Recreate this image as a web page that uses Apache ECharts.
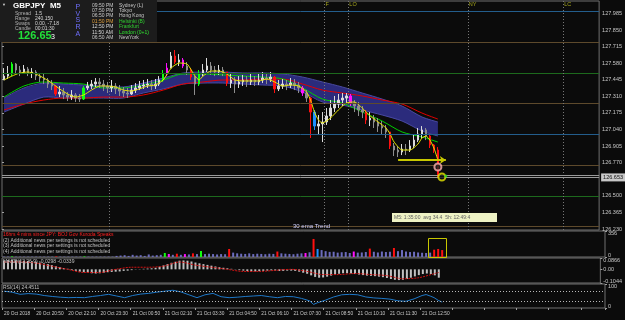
<!DOCTYPE html>
<html>
<head>
<meta charset="utf-8">
<script src="https://cdn.jsdelivr.net/npm/echarts@6/dist/echarts.min.js"></script>
<style>
  html, body { margin: 0; padding: 0; background: #0b0b0b; }
  #chart { width: 625px; height: 320px; }
</style>
</head>
<body>
<div id="chart"></div>
<script>
// GBPJPY M5, each slot = 10 min
const timeLabels = ['20 Oct 2018', '20 Oct 20:50', '20 Oct 22:10', '20 Oct 23:30', '21 Oct 00:50',
  '21 Oct 02:10', '21 Oct 03:30', '21 Oct 04:50', '21 Oct 06:10', '21 Oct 07:30',
  '21 Oct 08:50', '21 Oct 10:10', '21 Oct 11:30', '21 Oct 12:50']

const firstOpen = 127.443
const closes = [
  127.475, 127.492, 127.573, 127.524, 127.508, 127.532, 127.500, 127.508, 127.475, 127.459,
  127.443, 127.410, 127.394, 127.329, 127.345, 127.321, 127.304, 127.321, 127.296, 127.288,
  127.378, 127.394, 127.410, 127.427, 127.410, 127.394, 127.378, 127.394, 127.370, 127.353,
  127.337, 127.329, 127.361, 127.378, 127.394, 127.402, 127.410, 127.394, 127.410, 127.443,
  127.492, 127.540, 127.638, 127.589, 127.606, 127.557, 127.524, 127.467, 127.410, 127.492,
  127.524, 127.557, 127.524, 127.508, 127.524, 127.508, 127.418, 127.443, 127.410, 127.427,
  127.443, 127.427, 127.443, 127.427, 127.443, 127.459, 127.451, 127.467, 127.370, 127.394,
  127.410, 127.402, 127.418, 127.402, 127.378, 127.337, 127.296, 127.182, 127.068, 127.085,
  127.101, 127.150, 127.215, 127.247, 127.280, 127.296, 127.313, 127.256, 127.231, 127.199,
  127.182, 127.117, 127.133, 127.101, 127.068, 127.052, 127.020, 126.906, 126.873, 126.857,
  126.881, 126.873, 126.906, 126.954, 127.003, 127.036, 126.987, 126.914, 126.873, 126.653
]
const highs = [
  127.540, 127.557, 127.589, 127.581, 127.557, 127.565, 127.549, 127.540, 127.524, 127.500,
  127.492, 127.459, 127.443, 127.402, 127.394, 127.378, 127.345, 127.361, 127.337, 127.329,
  127.394, 127.427, 127.443, 127.459, 127.459, 127.443, 127.427, 127.443, 127.418, 127.402,
  127.386, 127.378, 127.402, 127.418, 127.435, 127.443, 127.451, 127.443, 127.451, 127.475,
  127.524, 127.581, 127.671, 127.687, 127.654, 127.622, 127.589, 127.540, 127.475, 127.524,
  127.573, 127.622, 127.589, 127.557, 127.565, 127.549, 127.508, 127.492, 127.467, 127.475,
  127.484, 127.475, 127.492, 127.475, 127.492, 127.508, 127.500, 127.508, 127.475, 127.443,
  127.451, 127.443, 127.459, 127.451, 127.427, 127.394, 127.361, 127.304, 127.199, 127.158,
  127.182, 127.215, 127.280, 127.313, 127.329, 127.337, 127.337, 127.329, 127.280, 127.264,
  127.231, 127.199, 127.182, 127.158, 127.133, 127.109, 127.077, 127.020, 126.930, 126.906,
  126.922, 126.922, 126.954, 127.003, 127.052, 127.068, 127.052, 127.003, 126.922, 126.897
]
const lows = [
  127.443, 127.451, 127.475, 127.492, 127.475, 127.492, 127.475, 127.459, 127.443, 127.427,
  127.410, 127.378, 127.361, 127.313, 127.304, 127.288, 127.272, 127.280, 127.264, 127.264,
  127.280, 127.361, 127.370, 127.386, 127.378, 127.353, 127.337, 127.345, 127.329, 127.313,
  127.304, 127.296, 127.321, 127.337, 127.361, 127.370, 127.378, 127.361, 127.370, 127.394,
  127.427, 127.475, 127.540, 127.573, 127.557, 127.540, 127.484, 127.443, 127.321, 127.394,
  127.475, 127.508, 127.484, 127.475, 127.484, 127.475, 127.394, 127.378, 127.337, 127.378,
  127.394, 127.386, 127.402, 127.394, 127.402, 127.418, 127.410, 127.427, 127.337, 127.353,
  127.370, 127.361, 127.378, 127.361, 127.337, 127.313, 127.264, 126.971, 127.036, 126.995,
  126.938, 127.077, 127.117, 127.182, 127.215, 127.231, 127.247, 127.231, 127.182, 127.150,
  127.133, 127.085, 127.068, 127.052, 127.020, 127.003, 126.971, 126.881, 126.824, 126.816,
  126.832, 126.832, 126.857, 126.889, 126.938, 126.971, 126.954, 126.889, 126.849, 126.653
]

// PVSRA candle classes (slot indexes)
const climaxBear = [13, 43, 47, 56, 68, 77, 91, 97, 107, 108, 109]
const climaxBull = [2, 20, 40, 49]
const aboveAvgBear = [41, 45, 75, 87]
const aboveAvgBull = [78]

const volumes = [
  5, 5, 8, 5, 5, 5, 5, 5, 5, 5, 5, 5, 5, 8, 5, 5, 5, 5, 5, 5,
  8, 5, 5, 5, 5, 5, 5, 5, 15, 20, 25, 15, 30, 20, 25, 15, 35, 20, 25, 30,
  55, 41, 30, 45, 30, 40, 35, 50, 40, 82, 40, 45, 40, 35, 40, 38, 110, 60, 50, 45,
  42, 50, 40, 45, 42, 38, 45, 42, 75, 50, 45, 42, 38, 45, 50, 55, 65, 247, 110, 95,
  80, 70, 72, 60, 65, 68, 55, 75, 60, 62, 68, 115, 72, 62, 75, 68, 72, 123, 80, 95,
  75, 68, 72, 62, 58, 55, 60, 100, 110, 95
]

// moving averages, sampled at these slots
const maX = [0, 5, 10, 15, 20, 25, 30, 35, 40, 45, 50, 55, 60, 65, 70, 75, 80, 85, 90, 95, 100, 105, 109]
const ribbonTop = [127.296, 127.378, 127.418, 127.410, 127.402, 127.394, 127.386, 127.418, 127.459, 127.500, 127.508, 127.508,
  127.500, 127.500, 127.492, 127.467, 127.427, 127.386, 127.337, 127.288, 127.231, 127.142, 127.101]
const ribbonBot = [127.182, 127.247, 127.304, 127.296, 127.296, 127.296, 127.296, 127.337, 127.370, 127.410, 127.418, 127.418,
  127.410, 127.402, 127.394, 127.345, 127.264, 127.239, 127.199, 127.158, 127.109, 127.028, 126.987]
const greenMA = [127.304, 127.394, 127.427, 127.418, 127.410, 127.378, 127.378, 127.402, 127.443, 127.492, 127.492, 127.484,
  127.475, 127.467, 127.451, 127.378, 127.288, 127.256, 127.182, 127.109, 127.020, 126.979, 126.938]
const redMA = [127.199, 127.247, 127.280, 127.296, 127.296, 127.304, 127.304, 127.321, 127.361, 127.410, 127.427, 127.443,
  127.443, 127.451, 127.451, 127.410, 127.361, 127.337, 127.313, 127.280, 127.247, 127.174, 127.125]

const yellowX = [0, 2, 4, 6, 8, 10, 12, 14, 16, 18, 20, 22, 24, 26, 28, 30, 32, 34, 36, 38, 40, 42, 44, 46, 48, 49, 50, 52, 54, 56,
  58, 60, 62, 64, 66, 68, 70, 72, 74, 76, 77, 78, 79, 80, 82, 84, 86, 88, 90, 92, 94, 96, 97, 98, 100, 102, 104, 105, 106, 107, 108, 109]
const yellowMA = [127.443, 127.475, 127.500, 127.508, 127.492, 127.459, 127.418, 127.370, 127.329, 127.304, 127.321, 127.361,
  127.394, 127.394, 127.386, 127.361, 127.353, 127.370, 127.394, 127.402, 127.443, 127.540, 127.581, 127.573, 127.475, 127.443,
  127.475, 127.516, 127.516, 127.492, 127.443, 127.435, 127.435, 127.435, 127.451, 127.427, 127.394, 127.402, 127.394, 127.345,
  127.280, 127.182, 127.117, 127.093, 127.133, 127.199, 127.256, 127.264, 127.215, 127.150, 127.101, 127.052, 127.003, 126.938,
  126.873, 126.873, 126.922, 126.971, 126.987, 126.954, 126.889, 126.792]

// round-number levels
const wholeLevels = [128.00, 127.00]
const halfLevels = [127.50, 126.50]
const quarterLevels = [127.75, 127.25, 126.75, 126.25]
const bidPrice = 126.653
const askPrice = 126.668

// session markers (slot boundaries)
const sessionSlots = [27, 81, 87, 117, 141]
const sessionNames = ['', 'F', 'LO', 'NY', 'LC']

// arrow and signal dots
const arrowLevel = 126.792
const arrowSlots = [99, 111]
const ringSlots = [109]
const ringPrices = [126.735]
const targetSlots = [110]
const targetPrices = [126.653]
const dotSlots = [111]
const dotPrices = [126.661]

const macdHist = [
  0.068, 0.070, 0.072, 0.070, 0.068, 0.066, 0.064, 0.062, 0.058, 0.052,
  0.046, 0.040, 0.032, 0.024, 0.016, 0.010, 0.004, -0.006, -0.012, -0.018,
  -0.022, -0.026, -0.030, -0.032, -0.030, -0.026, -0.022, -0.020, -0.018, -0.016,
  -0.012, -0.010, -0.006, -0.002, 0.002, 0.004, 0.006, 0.008, 0.012, 0.020,
  0.030, 0.040, 0.050, 0.058, 0.066, 0.068, 0.066, 0.060, 0.052, 0.046,
  0.040, 0.034, 0.028, 0.022, 0.016, 0.012, 0.008, 0.004, -0.002, -0.006,
  -0.010, -0.014, -0.016, -0.016, -0.014, -0.012, -0.010, -0.008, -0.010, -0.012,
  -0.012, -0.010, -0.010, -0.012, -0.018, -0.026, -0.034, -0.046, -0.058, -0.064,
  -0.062, -0.056, -0.048, -0.040, -0.034, -0.030, -0.030, -0.032, -0.036, -0.040,
  -0.044, -0.048, -0.050, -0.052, -0.056, -0.060, -0.066, -0.074, -0.080, -0.082,
  -0.080, -0.074, -0.064, -0.054, -0.044, -0.036, -0.032, -0.036, -0.046, -0.064
]
const macdSigX = [0, 4, 8, 12, 16, 20, 24, 28, 32, 36, 40, 44, 48, 52, 56, 60, 64, 68, 72, 76, 80, 84, 88, 92, 96, 100, 104, 108, 109]
const macdSig = [0.056, 0.056, 0.048, 0.024, 0, -0.024, -0.024, 0, 0.016, 0.016, 0.024, 0.056, 0.032, 0.016, 0, -0.016,
  -0.016, -0.008, 0, -0.016, -0.040, -0.040, -0.032, -0.040, -0.048, -0.072, -0.064, -0.032, -0.024]

const rsiX = [0, 2, 4, 6, 8, 10, 12, 14, 16, 18, 20, 22, 24, 26, 28, 30, 32, 34, 36, 38, 40, 42, 44, 46, 48, 50, 52, 54, 56, 58,
  60, 62, 64, 66, 68, 70, 72, 74, 76, 77, 78, 80, 82, 84, 86, 88, 90, 92, 94, 96, 98, 100, 102, 104, 105, 106, 107, 108, 109]
const rsiVal = [70, 66, 57, 60, 58, 52, 48, 45, 43, 44, 43, 48, 52, 57, 50, 43, 52, 58, 61, 66, 70, 74, 67, 55, 43, 55, 61, 47, 43, 45,
  48, 50, 52, 47, 43, 48, 47, 40, 30, 15, 22, 33, 46, 55, 57, 55, 46, 42, 40, 37, 30, 28, 38, 52, 56, 50, 43, 32, 24.45]

// axis tick labels
const priceTicks = [126.230, 126.365, 126.500, 126.770, 126.905, 127.040, 127.175, 127.310, 127.445, 127.580, 127.715, 127.850, 127.985]
const volTicks = [0, 356]
const macdTicks = [-0.1044, 0, 0.0866]
const rsiTicks = [0, 30, 70, 100]

const FONT = 'Liberation Sans, Arial, sans-serif'
const NARROW = 'Liberation Sans Narrow, Liberation Sans, sans-serif'
const AXIS_TXT = '#c8c8c8'
const BORDER = '#707070'
const SLOTS = 150

const pvsraColor = i => {
  if (climaxBear.includes(i)) return '#ff1010'
  if (climaxBull.includes(i)) return '#10ff10'
  if (aboveAvgBear.includes(i)) return '#ff10ff'
  if (aboveAvgBull.includes(i)) return '#1e90ff'
  return null
}

const categories = Array.from({ length: SLOTS }, (_, i) => String(i))

const candleData = closes.map((c, i) => {
  const o = i === 0 ? firstOpen : closes[i - 1]
  const item = { value: [o, c, lows[i], highs[i]] }
  const col = pvsraColor(i)
  if (col) item.itemStyle = { color: col, color0: col, borderColor: col, borderColor0: col }
  return item
})

const volumeData = volumes.map((v, i) => ({
  value: v,
  itemStyle: { color: pvsraColor(i) || '#6c6cbc' }
}))

const pairs = (xs, ys) => xs.map((x, k) => [x, ys[k]])

const txt = (x, y, s, fill, size, weight) => ({
  type: 'text',
  x, y, z: 100,
  style: {
    text: s, fill,
    font: (weight || 'normal') + ' ' + size + 'px ' + FONT,
    verticalAlign: 'middle'
  }
})

const hiddenCat = (gridIndex) => ({
  type: 'category', gridIndex, data: categories, boundaryGap: true,
  axisLine: { show: false }, axisTick: { show: false }, axisLabel: { show: false }
})

const LBL = { fontSize: 5.5, color: AXIS_TXT, fontFamily: NARROW }

const rightAxis = (gridIndex, min, max, ticks, fmt) => ({
  type: 'value', gridIndex, position: 'right', min, max,
  splitLine: { show: false },
  axisLine: { show: false },
  axisTick: { show: true, length: 2, lineStyle: { color: '#a0a0a0' }, customValues: ticks },
  axisLabel: {
    customValues: ticks, margin: 3, ...LBL,
    showMinLabel: true, showMaxLabel: true, hideOverlap: false,
    formatter: fmt,
    rich: {
      dn: { padding: [4, 0, 0, 0], ...LBL },
      up: { padding: [0, 0, 4, 0], ...LBL }
    }
  }
})

const isZero = v => Math.abs(v) < 1e-9

const chart = echarts.init(document.getElementById('chart'), null, { renderer: 'canvas' })

const option = {
  backgroundColor: '#0b0b0b',
  animation: false,
  grid: [
    { left: 2, top: 1, width: 603, height: 229, show: true, borderColor: BORDER, borderWidth: 1 },
    { left: 2, top: 231, width: 603, height: 26, show: true, borderColor: BORDER, borderWidth: 1 },
    { left: 2, top: 258, width: 603, height: 25, show: true, borderColor: BORDER, borderWidth: 1 },
    { left: 2, top: 284, width: 603, height: 24, show: true, borderColor: BORDER, borderWidth: 1 }
  ],
  xAxis: [
    hiddenCat(0),
    { type: 'value', gridIndex: 0, min: 0, max: SLOTS, show: false },
    hiddenCat(1),
    hiddenCat(2),
    {
      type: 'category', gridIndex: 3, data: categories, boundaryGap: true,
      axisLine: { show: false },
      axisTick: { show: true, interval: 7, length: 2, lineStyle: { color: '#a0a0a0' } },
      axisLabel: {
        interval: 7, align: 'left', margin: 3, color: AXIS_TXT, fontSize: 4.8, fontFamily: NARROW,
        formatter: v => timeLabels[Number(v) / 8] || ''
      }
    }
  ],
  yAxis: [
    rightAxis(0, 126.222, 128.086, priceTicks, v => v.toFixed(3)),
    rightAxis(1, 0, 356, volTicks, v => isZero(v) ? '{up|0}' : '{dn|' + v + '}'),
    rightAxis(2, -0.1044, 0.0866, macdTicks,
      v => isZero(v) ? '0.00' : (v > 0 ? '{dn|' + v.toFixed(4) + '}' : '{up|' + v.toFixed(4) + '}')),
    rightAxis(3, 0, 100, rsiTicks,
      v => v > 99 ? '{dn|100}' : (isZero(v) ? '{up|0}' : String(Math.round(v))))
  ],
  series: [
    // MA ribbon
    {
      type: 'custom', xAxisIndex: 0, yAxisIndex: 0, z: 1, silent: true,
      data: [0],
      renderItem: (params, api) => {
        const top = maX.map((x, k) => api.coord([x, ribbonTop[k]]))
        const bot = maX.map((x, k) => api.coord([x, ribbonBot[k]]))
        return {
          type: 'group',
          children: [
            { type: 'polygon', shape: { points: top.concat(bot.slice().reverse()) }, style: { fill: '#2b2b7c' } },
            { type: 'polyline', shape: { points: top, smooth: 0.3 }, style: { stroke: '#4848a0', fill: null, lineWidth: 1 } },
            { type: 'polyline', shape: { points: bot, smooth: 0.3 }, style: { stroke: '#4848a0', fill: null, lineWidth: 1 } }
          ]
        }
      }
    },
    // levels
    {
      type: 'line', xAxisIndex: 0, yAxisIndex: 0, z: 1, data: [],
      markLine: {
        silent: true, symbol: 'none', animation: false, label: { show: false },
        data: [
          ...wholeLevels.map(v => ({ yAxis: v, lineStyle: { color: '#235d8c', type: 'solid', width: 1 } })),
          ...halfLevels.map(v => ({ yAxis: v, lineStyle: { color: '#1d6a1d', type: 'solid', width: 1 } })),
          ...quarterLevels.map(v => ({ yAxis: v, lineStyle: { color: '#5e4a2c', type: 'solid', width: 1 } }))
        ]
      }
    },
    // sessions
    {
      type: 'scatter', xAxisIndex: 1, yAxisIndex: 0, z: 2, symbolSize: 0, silent: true,
      data: sessionSlots.map((s, k) => ({ value: [s, 128.086], name: sessionNames[k] })),
      label: {
        show: true, position: 'right', distance: 1, offset: [0, 3],
        formatter: p => p.name, color: '#c8c820', fontSize: 5.5, fontFamily: FONT
      },
      markLine: {
        silent: true, symbol: 'none', animation: false, label: { show: false },
        lineStyle: { color: '#777777', type: [1, 2], width: 1 },
        data: sessionSlots.map(s => ({ xAxis: s }))
      }
    },
    {
      type: 'line', xAxisIndex: 0, yAxisIndex: 0, z: 2, symbol: 'none', smooth: 0.3,
      data: pairs(maX, redMA), lineStyle: { color: '#e00000', width: 1 }
    },
    {
      type: 'line', xAxisIndex: 0, yAxisIndex: 0, z: 2, symbol: 'none', smooth: 0.3,
      data: pairs(maX, greenMA), lineStyle: { color: '#00d000', width: 1 }
    },
    {
      type: 'candlestick', xAxisIndex: 0, yAxisIndex: 0, z: 3, barWidth: 2,
      data: candleData,
      itemStyle: { color: '#dcdcdc', color0: '#8e8e8e', borderColor: '#dcdcdc', borderColor0: '#8e8e8e', borderWidth: 1 },
      markLine: {
        silent: true, symbol: 'none', animation: false,
        data: [
          {
            yAxis: bidPrice, lineStyle: { color: '#9a9a9a', type: 'solid', width: 1 },
            label: {
              show: true, position: 'end', distance: 2, formatter: bidPrice.toFixed(3),
              backgroundColor: '#c8c8c8', color: '#101010', fontSize: 5.5, fontFamily: NARROW, padding: [1, 2]
            }
          },
          { yAxis: askPrice, lineStyle: { color: '#9a9a9a', type: 'solid', width: 1 }, label: { show: false } }
        ]
      }
    },
    {
      type: 'line', xAxisIndex: 0, yAxisIndex: 0, z: 4, symbol: 'none', smooth: 0.2,
      data: pairs(yellowX, yellowMA), lineStyle: { color: '#e6e600', width: 1 },
      markLine: {
        silent: true, animation: false, symbol: ['none', 'arrow'], symbolSize: 6,
        label: { show: false },
        lineStyle: { color: '#c8c800', type: 'solid', width: 2 },
        data: [[{ coord: [arrowSlots[0], arrowLevel] }, { coord: [arrowSlots[1], arrowLevel] }]]
      }
    },
    {
      type: 'scatter', xAxisIndex: 0, yAxisIndex: 0, z: 5, silent: true,
      data: pairs(ringSlots, ringPrices), symbol: 'circle', symbolSize: 7,
      itemStyle: { color: '#202020', borderColor: '#ffb0b0', borderWidth: 2 }
    },
    {
      type: 'scatter', xAxisIndex: 0, yAxisIndex: 0, z: 5, silent: true,
      data: pairs(targetSlots, targetPrices), symbol: 'circle', symbolSize: 7,
      itemStyle: { color: '#101010', borderColor: '#e8e800', borderWidth: 2 }
    },
    {
      type: 'scatter', xAxisIndex: 0, yAxisIndex: 0, z: 5, silent: true,
      data: pairs(dotSlots, dotPrices), symbol: 'circle', symbolSize: 3,
      itemStyle: { color: '#22dd22' }
    },
    // volume
    {
      type: 'bar', xAxisIndex: 2, yAxisIndex: 1, barWidth: 2, data: volumeData
    },
    // macd
    {
      type: 'bar', xAxisIndex: 3, yAxisIndex: 2, barWidth: 2, data: macdHist,
      itemStyle: { color: '#c0c0c0' }
    },
    {
      type: 'line', xAxisIndex: 3, yAxisIndex: 2, symbol: 'none', smooth: 0.3,
      data: pairs(macdSigX, macdSig), lineStyle: { color: '#d01010', width: 1, type: [2, 1] }
    },
    // rsi
    {
      type: 'line', xAxisIndex: 4, yAxisIndex: 3, symbol: 'none',
      data: pairs(rsiX, rsiVal), lineStyle: { color: '#1e78c8', width: 1 },
      markLine: {
        silent: true, symbol: 'none', animation: false, label: { show: false },
        lineStyle: { color: '#b8b8b8', type: [1, 2], width: 1 },
        data: [{ yAxis: 70 }, { yAxis: 30 }]
      }
    }
  ],
  graphic: [
    // info panel
    { type: 'rect', x: 0, y: 0, z: 99, shape: { width: 157, height: 42 }, style: { fill: '#1c1c1c' } },
    txt(2, 5, '\u25BC', '#d0d0d0', 4),
    txt(13, 6, 'GBPJPY  M5', '#ffffff', 8, 'bold'),
    txt(15, 13.5, 'Spread', '#b0b0b0', 5), txt(35, 13.5, '1.5', '#d8d8d8', 5),
    txt(15, 18.5, 'Range', '#b0b0b0', 5), txt(35, 18.5, '240.150', '#d8d8d8', 5),
    txt(15, 23.5, 'Swaps', '#b0b0b0', 5), txt(35, 23.5, '0.00, -7.18', '#d8d8d8', 5),
    txt(15, 28.5, 'Candle', '#b0b0b0', 5), txt(35, 28.5, '00:01:30', '#d8d8d8', 5),
    txt(18, 36, '126.65', '#22e03a', 11, 'bold'),
    txt(51, 37, '3', '#ffffff', 7),
    txt(75.5, 7, 'P', '#7070ff', 7), txt(75.5, 14, 'V', '#7070ff', 7), txt(75.5, 20.5, 'S', '#7070ff', 7),
    txt(75.5, 27, 'R', '#7070ff', 7), txt(75.5, 34.5, 'A', '#7070ff', 7),
    txt(92, 6, '09:50 PM', '#c8c8c8', 5), txt(119, 6, 'Sydney (L)', '#c8c8c8', 5),
    txt(92, 11, '07:50 PM', '#c8c8c8', 5), txt(119, 11, 'Tokyo', '#c8c8c8', 5),
    txt(92, 16, '06:50 PM', '#c8c8c8', 5), txt(119, 16, 'Hong Kong', '#c8c8c8', 5),
    txt(92, 21.5, '01:50 PM', '#e0a040', 5), txt(119, 21.5, 'Helsinki (B)', '#30d030', 5),
    txt(92, 27, '12:50 PM', '#d8d8d8', 5), txt(119, 27, 'Frankfurt', '#30d030', 5),
    txt(92, 32.5, '11:50 AM', '#d8d8d8', 5), txt(119, 32.5, 'London (0+1)', '#30e030', 5),
    txt(92, 38, '06:50 AM', '#c8c8c8', 5), txt(119, 38, 'NewYork', '#c8c8c8', 5),
    // chart texts
    txt(293, 226, '30 ema Trend', '#d0d0ff', 6),
    { type: 'rect', x: 392, y: 213, z: 99, shape: { width: 105, height: 9 }, style: { fill: '#eef2c4' } },
    txt(394, 217.5, 'M5: 1:35:00  avg 34.4  5h: 12:49:4', '#606060', 5),
    // news
    txt(3, 235, '16hrs 4 mins since JPY: BOJ Gov Kuroda Speaks', '#ff2020', 5),
    txt(3, 240.5, '(2) Additional news per settings is not scheduled', '#c0c0c0', 5),
    txt(3, 246, '(3) Additional news per settings is not scheduled', '#c0c0c0', 5),
    txt(3, 251.5, '(4) Additional news per settings is not scheduled', '#c0c0c0', 5),
    { type: 'rect', x: 428.5, y: 238.5, z: 99, shape: { width: 18, height: 19 }, style: { fill: null, stroke: '#c8c800', lineWidth: 1 } },
    txt(3, 262, 'MACD(12,26,9) -0.0298 -0.0339', '#c0c0c0', 5),
    txt(3, 287.5, 'RSI(14) 24.4511', '#c0c0c0', 5)
  ]
}

chart.setOption(option)
</script>
</body>
</html>
